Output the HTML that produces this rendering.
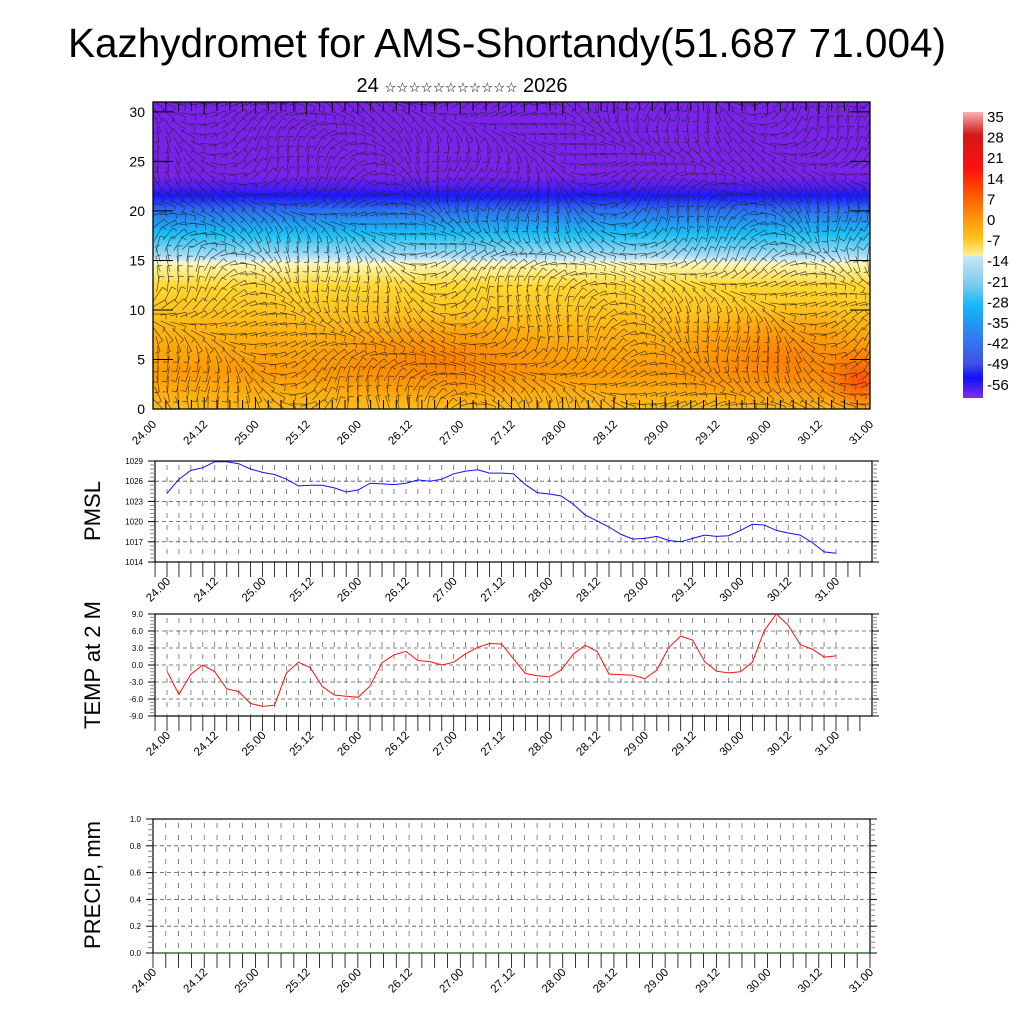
<!DOCTYPE html>
<html><head><meta charset="utf-8"><style>
body{margin:0;background:#fff;}
svg text{font-family:"Liberation Sans","DejaVu Sans",sans-serif;}
</style></head><body>
<svg id="root" width="1024" height="1024" xmlns="http://www.w3.org/2000/svg">
<defs>
<linearGradient id="vgrad" x1="0" y1="0" x2="0" y2="1">
<stop offset="0" stop-color="#7a22ea"/>
<stop offset="0.24" stop-color="#7a22ea"/>
<stop offset="0.28" stop-color="#4a1cf5"/>
<stop offset="0.305" stop-color="#1b18ff"/>
<stop offset="0.35" stop-color="#2c6cf2"/>
<stop offset="0.43" stop-color="#18c0f4"/>
<stop offset="0.5" stop-color="#a8dcf4"/>
<stop offset="0.515" stop-color="#d2ecf6"/>
<stop offset="0.525" stop-color="#fff8b8"/>
<stop offset="0.6" stop-color="#ffd830"/>
<stop offset="0.75" stop-color="#ffb210"/>
<stop offset="0.88" stop-color="#ff9a00"/>
<stop offset="1" stop-color="#ffbc18"/>
</linearGradient>
<radialGradient id="hot1" cx="0.5" cy="0.5" r="0.5">
<stop offset="0" stop-color="#ff7a00" stop-opacity="0.9"/><stop offset="1" stop-color="#ff8a00" stop-opacity="0"/>
</radialGradient>
<radialGradient id="hot2" cx="0.5" cy="0.5" r="0.5">
<stop offset="0" stop-color="#ff4a00" stop-opacity="0.95"/><stop offset="1" stop-color="#ff7000" stop-opacity="0"/>
</radialGradient>
<linearGradient id="cbar" x1="0" y1="0" x2="0" y2="1">
<stop offset="0" stop-color="#f8b0b0"/>
<stop offset="0.08" stop-color="#d21818"/>
<stop offset="0.2" stop-color="#ff1010"/>
<stop offset="0.3" stop-color="#ff6000"/>
<stop offset="0.38" stop-color="#ff9a10"/>
<stop offset="0.44" stop-color="#ffc018"/>
<stop offset="0.5" stop-color="#fff090"/>
<stop offset="0.505" stop-color="#c8e6f6"/>
<stop offset="0.6" stop-color="#80ccec"/>
<stop offset="0.68" stop-color="#10b8f8"/>
<stop offset="0.78" stop-color="#3080f0"/>
<stop offset="0.88" stop-color="#4050e8"/>
<stop offset="0.93" stop-color="#1010f8"/>
<stop offset="1" stop-color="#8030e8"/>
</linearGradient>
<clipPath id="topclip"><rect x="153" y="102" width="717" height="307"/></clipPath>
</defs>
<text x="507" y="57" font-size="40.5" text-anchor="middle">Kazhydromet for AMS-Shortandy(51.687 71.004)</text>
<text x="462" y="92" font-size="20" text-anchor="middle">24 <tspan font-size="13.5">☆☆☆☆☆☆☆☆☆☆☆</tspan> 2026</text>
<g id="topPanel"></g>
<g id="cb"></g>
<g id="pmsl"></g>
<g id="temp"></g>
<g id="precip"></g>
</svg>
<script>
const dayLabels = ["24.00","24.12","25.00","25.12","26.00","26.12","27.00","27.12","28.00","28.12","29.00","29.12","30.00","30.12","31.00"];
const pmslValues = [1024.2,1026.3,1027.6,1028.0,1028.9,1028.9,1028.6,1027.8,1027.3,1027.0,1026.3,1025.3,1025.4,1025.4,1025.0,1024.4,1024.7,1025.7,1025.6,1025.5,1025.7,1026.2,1026.0,1026.3,1027.1,1027.5,1027.7,1027.2,1027.2,1027.1,1025.5,1024.3,1024.1,1023.8,1022.6,1021.0,1020.1,1019.2,1018.1,1017.4,1017.5,1017.8,1017.2,1017.0,1017.5,1018.0,1017.8,1017.9,1018.7,1019.6,1019.5,1018.7,1018.3,1018.0,1016.9,1015.5,1015.3];
const tempValues = [-1.1,-5.2,-1.6,0.0,-1.2,-4.2,-4.7,-6.8,-7.3,-7.1,-1.4,0.5,-0.5,-3.8,-5.3,-5.5,-5.7,-3.7,0.4,1.8,2.4,0.8,0.6,0.0,0.5,2.0,3.1,3.8,3.7,1.1,-1.5,-1.9,-2.1,-0.9,1.9,3.5,2.4,-1.6,-1.7,-1.8,-2.4,-0.9,3.1,5.1,4.4,0.6,-1.1,-1.4,-1.2,0.5,6.1,9.0,7.0,3.6,2.8,1.4,1.6];
const precipValues = [0,0,0,0,0,0,0,0,0,0,0,0,0,0,0,0,0,0,0,0,0,0,0,0,0,0,0,0,0,0,0,0,0,0,0,0,0,0,0,0,0,0,0,0,0,0,0,0,0,0,0,0,0,0,0,0,0];
const pmslTicks = [1014,1017,1020,1023,1026,1029];
const tempTicks = [-9,-6,-3,0,3,6,9];
const tempTickLabels = ["-9.0","-6.0","-3.0","0.0","3.0","6.0","9.0"];
const precipTicks = [0,0.2,0.4,0.6,0.8,1.0];
const precipTickLabels = ["0.0","0.2","0.4","0.6","0.8","1.0"];
const heightTicks = [0,5,10,15,20,25,30];
const cbarLabels = ["35","28","21","14","7","0","-7","-14","-21","-28","-35","-42","-49","-56"];

const NS="http://www.w3.org/2000/svg";
function mk(parent,tag,attrs,text){const e=document.createElementNS(NS,tag);for(const k in attrs)e.setAttribute(k,attrs[k]);if(text!==undefined)e.textContent=text;parent.appendChild(e);return e;}

const topG=document.getElementById('topPanel');
const TX0=153,TX1=870,TY0=102,TY1=409;
const tx=t=>TX0+(TX1-TX0)*t/56;
const ty=h=>TY1-(TY1-TY0)*h/31;
const fieldRect=mk(topG,'rect',{x:TX0,y:TY0,width:TX1-TX0,height:TY1-TY0,fill:'url(#vgrad)'});


const gc=mk(topG,'g',{'clip-path':'url(#topclip)'});
mk(gc,'ellipse',{cx:440,cy:360,rx:150,ry:45,fill:'url(#hot1)'});
mk(gc,'ellipse',{cx:780,cy:360,rx:130,ry:55,fill:'url(#hot1)'});
mk(gc,'ellipse',{cx:860,cy:380,rx:45,ry:40,fill:'url(#hot2)'});
const wg=mk(gc,'g',{stroke:'#222','stroke-width':'0.7','stroke-opacity':'0.8',fill:'none'});


let d='';
for(let i=0;i<72;i++){for(let j=0;j<31;j++){
  const x=TX0+5+i*10, y=TY1-5-j*10;
  const a=Math.sin(i*0.21+j*0.33)*1.1+Math.cos(i*0.13-j*0.2)*0.8+(j>15?0.4:0);
  const L=16;
  const dx=Math.cos(a)*L/2, dy=Math.sin(a)*L/2;
  d+=`M${(x-dx).toFixed(1)} ${(y-dy).toFixed(1)}L${(x+dx).toFixed(1)} ${(y+dy).toFixed(1)}`;
  const bx=x+dx, by=y+dy;
  d+=`M${bx.toFixed(1)} ${by.toFixed(1)}l${(-Math.sin(a)*5).toFixed(1)} ${(Math.cos(a)*5).toFixed(1)}`;
}}
mk(wg,'path',{d:d});
mk(topG,'rect',{x:TX0,y:TY0,width:TX1-TX0,height:TY1-TY0,fill:'none',stroke:'#000','stroke-width':1.3});
heightTicks.forEach(h=>{
  const t=mk(topG,'text',{x:TX0-8,y:ty(h)+5,'font-size':14,'text-anchor':'end'},String(h));
  
  
  mk(topG,'line',{x1:TX0,x2:TX0+20,y1:ty(h),y2:ty(h),stroke:'#000'});
  mk(topG,'line',{x1:TX1,x2:TX1-20,y1:ty(h),y2:ty(h),stroke:'#000'});
});
for(let k=0;k<=56;k++){
  mk(topG,'line',{x1:tx(k),x2:tx(k),y1:TY1,y2:TY1-(k%4==0?12:9),stroke:'#000'});
  mk(topG,'line',{x1:tx(k),x2:tx(k),y1:TY0,y2:TY0+(k%4==0?12:9),stroke:'#000'});
}
dayLabels.forEach((s,i)=>{
  const x=tx(i*4);
  const t=mk(topG,'text',{x:x+4,y:TY1+16,'font-size':11.5,'text-anchor':'end',transform:`rotate(-45 ${x+4} ${TY1+16})`},s);
  
  
});

const cb=document.getElementById('cb');
mk(cb,'rect',{x:963,y:112,width:20,height:286,fill:'url(#cbar)'});
cbarLabels.forEach((s,i)=>{
  const t=mk(cb,'text',{x:987,y:122+i*20.6,'font-size':15},s);
  
  
});

function linePanel(gid,opt){
  const g=document.getElementById(gid);
  const {fx0,fx1,fy0,fy1,dx0,dx1,ymin,ymax,ticks,labels,vals,color,title,tcy,tickFont}=opt;
  const X=k=>dx0+(dx1-dx0)*k/56;
  const Y=v=>fy1-(fy1-fy0)*(v-ymin)/(ymax-ymin);
  mk(g,'rect',{x:fx0,y:fy0,width:fx1-fx0,height:fy1-fy0,fill:'#fff',stroke:'#000','stroke-width':1.2});
  ticks.forEach(v=>{ if(v!==ymin&&v!==ymax) mk(g,'line',{x1:fx0,x2:fx1,y1:Y(v),y2:Y(v),stroke:'#555','stroke-width':0.8,'stroke-dasharray':'4,3'});});
  for(let k=0;k<=56;k++){ const x=X(k); if(x>fx0+1&&x<fx1-1) mk(g,'line',{x1:x,x2:x,y1:fy0+4,y2:fy1,stroke:'#555','stroke-width':0.7,'stroke-dasharray':'5,7'});}
  const nmin=(ticks.length-1)*5;
  for(let m=0;m<=nmin;m++){const y=fy1-(fy1-fy0)*m/nmin; const L=m%5==0?7:5;
    mk(g,'line',{x1:fx0,x2:fx0-L,y1:y,y2:y,stroke:m%5==0?'#000':'#888'});
    mk(g,'line',{x1:fx1,x2:fx1+L,y1:y,y2:y,stroke:m%5==0?'#000':'#888'});}
  ticks.forEach((v,i)=>{
    const t=mk(g,'text',{x:fx0-12,y:Y(v)+3,'font-size':tickFont,'text-anchor':'end'},labels[i]);
    
    
  });
  for(let k=-2;k<=58;k++){const x=X(k); if(x<fx0-0.5||x>fx1+0.5)continue;
    mk(g,'line',{x1:x,x2:x,y1:fy1,y2:fy1+15,stroke:'#000','stroke-width':0.8});}
  dayLabels.forEach((s,i)=>{
    const x=X(i*4);
    const t=mk(g,'text',{x:x+4,y:fy1+20,'font-size':11.5,'text-anchor':'end',transform:`rotate(-45 ${x+4} ${fy1+20})`},s);
    
    
  });
  const pts=vals.map((v,k)=>X(k).toFixed(1)+','+Y(v).toFixed(1)).join(' ');
  const pl=mk(g,'polyline',{points:pts,fill:'none',stroke:color,'stroke-width':1});
  
  
  const tt=mk(g,'text',{x:100,y:tcy,'font-size':22,'text-anchor':'middle',transform:`rotate(-90 100 ${tcy})`},title);
  
  
}
linePanel('pmsl',{fx0:155,fx1:872,fy0:461,fy1:562,dx0:167,dx1:836,ymin:1014,ymax:1029,ticks:pmslTicks,labels:pmslTicks.map(String),vals:pmslValues,color:'#1010ff',title:'PMSL',tcy:511,tickFont:8});
linePanel('temp',{fx0:155,fx1:872,fy0:614,fy1:716,dx0:167,dx1:836,ymin:-9,ymax:9,ticks:tempTicks,labels:tempTickLabels,vals:tempValues,color:'#ff1010',title:'TEMP at 2 M',tcy:665,tickFont:8});
linePanel('precip',{fx0:153,fx1:870,fy0:819,fy1:953,dx0:153,dx1:870,ymin:0,ymax:1,ticks:precipTicks,labels:precipTickLabels,vals:precipValues,color:'#006400',title:'PRECIP, mm',tcy:885,tickFont:8});
</script>
</body></html>
